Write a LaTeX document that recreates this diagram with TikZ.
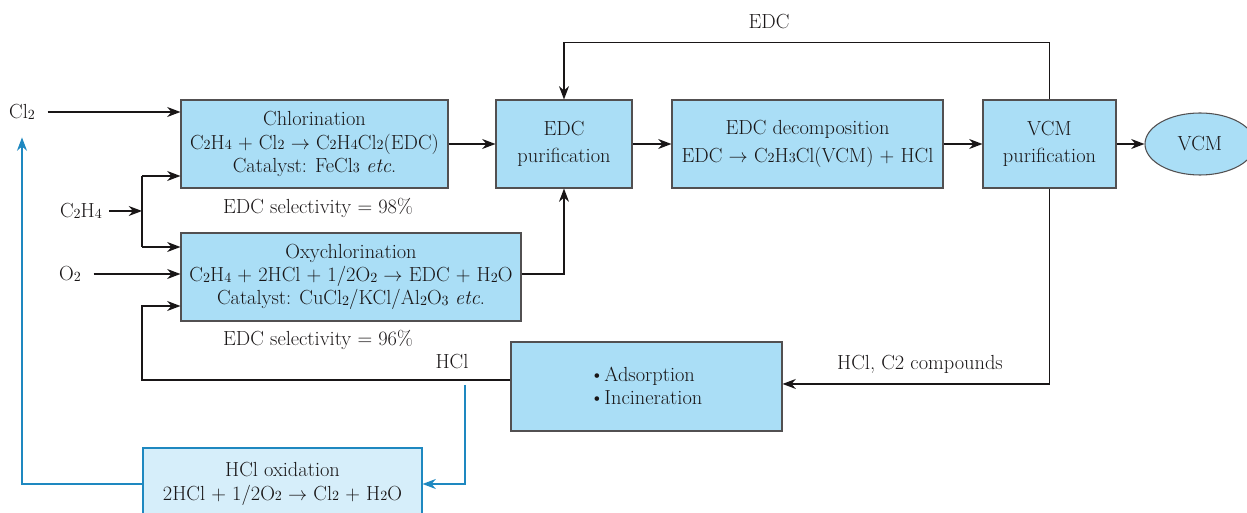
\documentclass[tikz,border=0pt]{standalone}
\usetikzlibrary{shapes.geometric,arrows.meta,calc}
\definecolor{boxfill}{RGB}{170,222,246}
\definecolor{lightfill}{RGB}{214,238,250}
\definecolor{bluel}{RGB}{30,136,192}
\definecolor{darkl}{RGB}{25,22,23}
\newcommand{\chs}[1]{\raisebox{-0.4pt}{\fontsize{10.5}{10}\selectfont #1}}
\begin{document}
\begin{tikzpicture}[x=0.75pt,y=-0.75pt,
  every node/.style={font=\fontsize{15.3}{16.5}\selectfont, text=darkl},
  pbox/.style 2 args={draw=darkl!75, line width=0.8pt, fill=boxfill, rectangle, align=center,
     minimum width=#1*0.75pt, minimum height=#2*0.75pt, inner sep=0pt},
  arr/.style={draw=darkl, line width=1pt, -{Stealth[length=10pt,width=7.5pt]}},
  ln/.style={draw=darkl, line width=1pt},
  barr/.style={draw=bluel, line width=1pt, -{Stealth[length=10pt,width=7.5pt]}}]
\useasboundingbox (0,0) rectangle (1247,513);
% boxes
\node[pbox={267}{88}] (chl) at (314.5,144) {Chlorination\\[1pt]
  C\chs2H\chs4 + Cl\chs2 $\rightarrow$ C\chs2H\chs4Cl\chs2(EDC)\\[1pt]
  Catalyst: FeCl\chs3 \textit{etc}.};
\node[pbox={340}{88}] (oxy) at (351,277) {Oxychlorination\\[1pt]
  C\chs2H\chs4 + 2HCl + 1/2O\chs2 $\rightarrow$ EDC + H\chs2O\\[1pt]
  Catalyst: CuCl\chs2/KCl/Al\chs2O\chs3 \textit{etc}.};
\node[pbox={136}{88}] (edcp) at (564,144) {EDC\\[4pt]purification};
\node[pbox={271}{88}] (dec) at (807.5,144) {EDC decomposition\\[4pt]EDC $\rightarrow$ C\chs2H\chs3Cl(VCM) + HCl};
\node[pbox={133}{88}] (vcmp) at (1049.5,144) {VCM\\[4pt]purification};
\node[draw=darkl!75, line width=0.8pt, fill=boxfill, ellipse, minimum width=110*0.75pt, minimum height=62*0.75pt, inner sep=0pt] (vcm) at (1200,144) {VCM};
\node[pbox={271}{89}] (ads) at (646.5,386.5) {};
\node[align=left] (adst) at (646,386) {\textbullet Adsorption\\[1pt]\textbullet Incineration};
\node[pbox={279}{72}, fill=lightfill, draw=bluel] (hox) at (282.5,484) {};
\node[align=center] (hoxt) at (282.5,484) {HCl oxidation\\[1pt]2HCl + 1/2O\chs2 $\rightarrow$ Cl\chs2 + H\chs2O};
% labels
\node (cl2) at (22,112) {Cl\chs2};
\node (c2h4) at (81,211) {C\chs2H\chs4};
\node (o2) at (70,274) {O\chs2};
\node (sel98) at (318,208) {EDC selectivity = 98\%};
\node (sel96) at (318,340) {EDC selectivity = 96\%};
\node (hcl) at (452,362) {HCl};
\node (edcl) at (769,22) {EDC};
\node (hclc2) at (920,364) {HCl, C2 compounds};
% coordinates
\coordinate (ja) at (142,176);
\coordinate (jb) at (142,247);
\coordinate (jm) at (142,211);
\coordinate (jc) at (142,306);
\coordinate (bl) at (465,385);
% connectors
\draw[arr] ([xshift=6pt]cl2.east) -- (cl2 -| chl.west);
\draw[arr] ([xshift=2pt]c2h4.east) -- (jm);
\draw[ln] (ja) -- (jb);
\draw[arr] (ja) -- (ja -| chl.west);
\draw[arr] (jb) -- (jb -| oxy.west);
\draw[arr] ([xshift=6pt]o2.east) -- (o2 -| oxy.west);
\draw[arr] (chl.east) -- (edcp.west);
\draw[arr] ([yshift=2.25pt]oxy.east) -| (edcp.south);
\draw[arr] (edcp.east) -- (dec.west);
\draw[arr] (dec.east) -- (vcmp.west);
\draw[arr] (vcmp.east) -- (vcm.west);
\draw[arr] (vcmp.north) -- ++(0,-57) -| (edcp.north);
\draw[arr] (vcmp.south) |- ([yshift=1.9pt]ads.east);
\draw[arr] ([yshift=4.9pt]ads.west) -| (jc) -- (jc -| oxy.west);
\draw[barr] (bl) |- (hox.east);
\draw[barr] (hox.west) -| ([yshift=-10pt]cl2.south);
\end{tikzpicture}
\end{document}
